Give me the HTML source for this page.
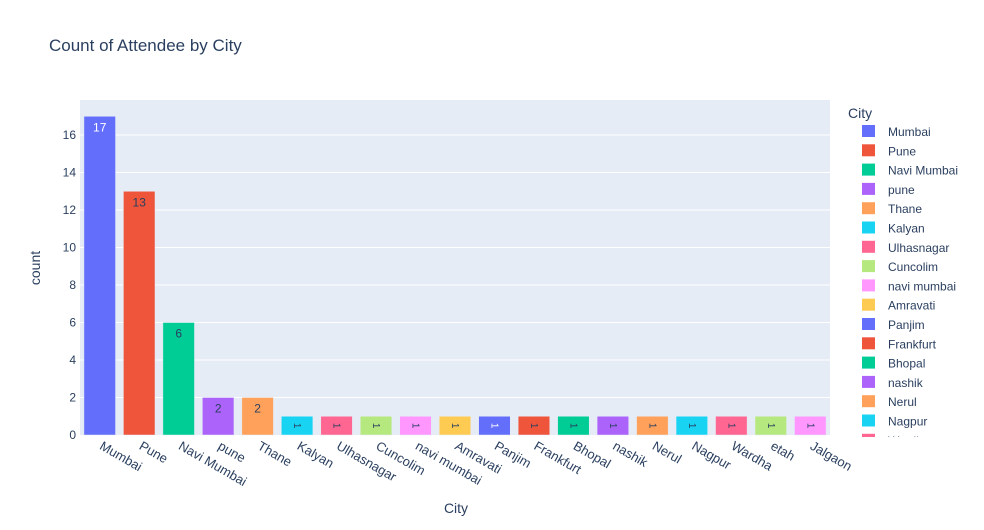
<!DOCTYPE html>
<html><head><meta charset="utf-8"><style>
body{margin:0;background:#fff;font-family:"Liberation Sans",Arial,sans-serif}
svg text{font-family:"Liberation Sans",Arial,sans-serif}
</style></head><body>
<svg id="c" width="984" height="525" xmlns="http://www.w3.org/2000/svg">
<rect x="0" y="0" width="984" height="525" fill="#fff"/>
<text x="49" y="51" font-size="17" fill="#2a3f5f">Count of Attendee by City</text>
<rect x="80" y="100" width="750" height="335" fill="#e5ecf6"/>
<g id="grid"></g><g id="bars"></g><g id="xt"></g>
<text x="456" y="513" font-size="14" fill="#2a3f5f" text-anchor="middle">City</text>
<text transform="translate(40,268) rotate(-90)" font-size="14" fill="#2a3f5f" text-anchor="middle">count</text>
<text x="848" y="118" font-size="14" fill="#2a3f5f">City</text>
<defs><clipPath id="lc"><rect x="840" y="122" width="144" height="315"/></clipPath></defs>
<g id="leg" clip-path="url(#lc)"></g>
</svg>
<script>
const categories=["Mumbai","Pune","Navi Mumbai","pune","Thane","Kalyan","Ulhasnagar","Cuncolim","navi mumbai","Amravati","Panjim","Frankfurt","Bhopal","nashik","Nerul","Nagpur","Wardha","etah","Jalgaon"];
const counts=[17,13,6,2,2,1,1,1,1,1,1,1,1,1,1,1,1,1,1];
const yTicks=[0,2,4,6,8,10,12,14,16];
const palette=["#636efa","#EF553B","#00cc96","#ab63fa","#FFA15A","#19d3f3","#FF6692","#B6E880","#FF97FF","#FECB52"];
const NS="http://www.w3.org/2000/svg";
const X0=80,W=750,Y0=435,YMAX=17.87,H=335;
const step=W/categories.length;
const x=i=>X0+step*(i+0.5);
const y=v=>Y0-v/YMAX*H;
function mk(tag,attrs,parent,txt){const e=document.createElementNS(NS,tag);for(const k in attrs)e.setAttribute(k,attrs[k]);if(txt!==undefined)e.textContent=txt;document.getElementById(parent).appendChild(e);return e;}
yTicks.forEach(t=>{
  if(t>0){const g=mk('line',{x1:X0,x2:X0+W,y1:y(t),y2:y(t),stroke:'#fff','stroke-width':1},'grid');
  
  }
  const l=mk('text',{x:X0-4,y:y(t)+4,'font-size':12,fill:'#2a3f5f','text-anchor':'end'},'grid',t);
  
  
});
const bw=step*0.8;
categories.forEach((c,i)=>{
  const col=palette[i%palette.length];
  const b=mk('rect',{x:x(i)-bw/2,y:y(counts[i]),width:bw,height:Y0-y(counts[i]),fill:col,stroke:'#e5ecf6','stroke-width':0.5},'bars');
  
  
  let t;
  if(counts[i]>=2){
    t=mk('text',{x:x(i),y:y(counts[i])+15,'font-size':12,fill:(i===0?'#fff':'#2a3f5f'),'text-anchor':'middle'},'bars',counts[i]);
  } else {
    const cx=x(i),cy=(y(counts[i])+Y0)/2;
    t=mk('text',{x:cx,y:cy+3,'font-size':10,fill:(col==="#636efa"?'#fff':'#2a3f5f'),'text-anchor':'middle',transform:`rotate(90 ${cx} ${cy})`},'bars',counts[i]);
  }
  
  
  const xl=mk('text',{x:x(i)+1,y:Y0+14,'font-size':13,fill:'#2a3f5f',transform:`rotate(30 ${x(i)+1} ${Y0+10})`},'xt',c);
  
  
  const ly=131+i*19.3;
  const sw=mk('rect',{x:862,y:ly-6,width:13,height:12,fill:col},'leg');
  
  
  const lt=mk('text',{x:888,y:ly+5,'font-size':12,fill:'#2a3f5f'},'leg',c);
  
  
});
</script>
</body></html>
